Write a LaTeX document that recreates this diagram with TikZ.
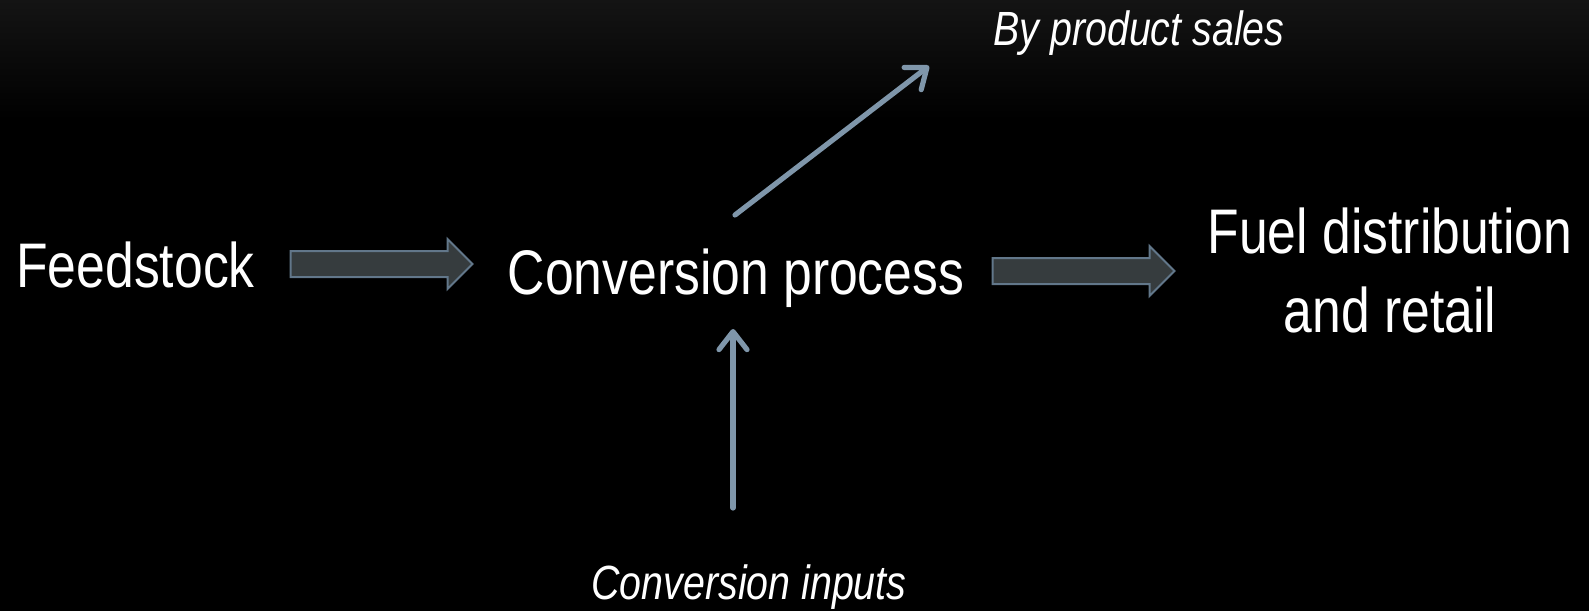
\documentclass[tikz,border=0pt]{standalone}
\usepackage{fontspec}
\setmainfont{Liberation Sans}[FakeStretch=0.82]
\usetikzlibrary{arrows.meta,shapes.arrows}
\definecolor{slate}{HTML}{7F96AA}
\definecolor{blockfill}{HTML}{363C3E}
\definecolor{blockline}{HTML}{62778A}
\definecolor{topgray}{HTML}{141414}
\tikzset{
    %Define standard arrow tip
    >={Straight Barb[length=9pt,width=14pt,round]},
    %Define style for the big texts
    big/.style={
           text=white,
           inner sep=0pt,
           font=\fontsize{31.5}{39.5}\selectfont},
    %Define style for the side labels
    side/.style={
           text=white,
           inner sep=0pt,
           font=\fontsize{24}{29}\selectfont\itshape},
    % Define block arrow style
    blockarrow/.style={
           single arrow,
           draw=blockline, fill=blockfill,
           line width=1pt,
           inner sep=6pt,
           minimum width=24pt,
           minimum height=91pt,
           single arrow head extend=6pt},
    % Define thin arrow style
    pil/.style={
           ->,
           draw=slate,
           line width=2.6pt,
           line cap=round}
}
\begin{document}
\begin{tikzpicture}[x=0.5pt, y=-0.5pt]

 \fill[black] (0,0) rectangle (1589,611);
 \shade[top color=topgray, bottom color=black] (0,0) rectangle (1589,120);
 \useasboundingbox (0,0) rectangle (1589,611);

 \node[big, anchor=base west] (feed) at (16,287) {Feedstock};
 \node[big, anchor=base] (conv) at (736,294) {Conversion process};
 \node[big, anchor=base, align=center] (fuel) at (1390,332) {Fuel distribution\\and retail};
 \node[side, anchor=base west] (byprod) at (993,45) {By product sales};
 \node[side, anchor=base] (inputs) at (749,599) {Conversion inputs};

 \node[blockarrow] (arrA) at (375,264) {};
 \node[blockarrow] (arrB) at (1077,271) {};

 \coordinate (bpfoot) at (735,215);
 \coordinate (bptip) at (929,66);
 \coordinate (infoot) at (733,508);
 \coordinate (intip) at (733,329);
 \draw[pil] (bpfoot) -- (bptip);
 \draw[pil] (infoot) -- (intip);
\end{tikzpicture}
\end{document}
